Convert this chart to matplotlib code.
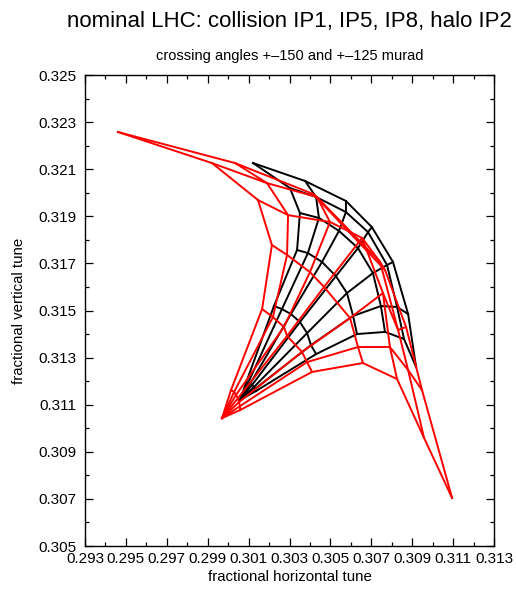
import matplotlib
matplotlib.use("Agg")
import matplotlib.pyplot as plt
import numpy as np
from matplotlib.ticker import MultipleLocator, FormatStrFormatter

plt.rcParams['font.family'] = ['Liberation Sans', 'DejaVu Sans']

# tune footprint grids: one row per amplitude (0 = origin), one column per angle
# columns run from the horizontal-only ray (j0) to the vertical-only ray (j6)
black_qx = [
    [0.30058] * 7,
    [0.30136, 0.30131, 0.30126, 0.30117, 0.30107, 0.30097, 0.30087],
    [0.30430, 0.30405, 0.30386, 0.30351, 0.30307, 0.30263, 0.30224],
    [0.30630, 0.30611, 0.30581, 0.30527, 0.30459, 0.30390, 0.30337],
    [0.30767, 0.30747, 0.30708, 0.30635, 0.30542, 0.30444, 0.30351],
    [0.30860, 0.30826, 0.30777, 0.30684, 0.30576, 0.30430, 0.30302],
    [0.30919, 0.30880, 0.30806, 0.30703, 0.30576, 0.30376, 0.30122],
]
black_qy = [
    [0.31120] * 7,
    [0.31158, 0.31167, 0.31175, 0.31184, 0.31188, 0.31192, 0.31192],
    [0.31315, 0.31353, 0.31404, 0.31451, 0.31485, 0.31506, 0.31519],
    [0.31400, 0.31477, 0.31574, 0.31646, 0.31706, 0.31744, 0.31757],
    [0.31409, 0.31519, 0.31659, 0.31765, 0.31838, 0.31893, 0.31914],
    [0.31379, 0.31515, 0.31693, 0.31833, 0.31918, 0.31982, 0.32020],
    [0.31260, 0.31485, 0.31706, 0.31854, 0.31965, 0.32050, 0.32126],
]

red_qx = [
    [0.29970] * 7,
    [0.30058, 0.30058, 0.30053, 0.30048, 0.30038, 0.30029, 0.30014],
    [0.30410, 0.30386, 0.30361, 0.30288, 0.30273, 0.30219, 0.30166],
    [0.30659, 0.30635, 0.30596, 0.30469, 0.30400, 0.30288, 0.30214],
    [0.30826, 0.30791, 0.30757, 0.30655, 0.30498, 0.30293, 0.30146],
    [0.30958, 0.30880, 0.30831, 0.30743, 0.30434, 0.30190, 0.29921],
    [0.31095, 0.30948, 0.30870, 0.30767, 0.30415, 0.30034, 0.29461],
]
red_qy = [
    [0.31043] * 7,
    [0.31077, 0.31094, 0.31111, 0.31128, 0.31141, 0.31154, 0.31162],
    [0.31239, 0.31281, 0.31324, 0.31392, 0.31430, 0.31472, 0.31506],
    [0.31277, 0.31345, 0.31468, 0.31600, 0.31663, 0.31736, 0.31778],
    [0.31209, 0.31345, 0.31574, 0.31808, 0.31876, 0.31905, 0.31969],
    [0.30959, 0.31247, 0.31417, 0.31706, 0.31982, 0.32041, 0.32126],
    [0.30704, 0.31162, 0.31430, 0.31672, 0.31995, 0.32126, 0.32258],
]

x_ticks = [0.293, 0.295, 0.297, 0.299, 0.301, 0.303, 0.305, 0.307, 0.309, 0.311, 0.313]
y_ticks = [0.305, 0.307, 0.309, 0.311, 0.313, 0.315, 0.317, 0.319, 0.321, 0.323, 0.325]


def draw_footprint(ax, qx, qy, color):
    qx = np.array(qx)
    qy = np.array(qy)
    # lines of constant amplitude
    for i in range(1, qx.shape[0]):
        ax.plot(qx[i], qy[i], color=color, lw=1.4)
    # lines of constant angle
    for j in range(qx.shape[1]):
        ax.plot(qx[:, j], qy[:, j], color=color, lw=1.4)


fig = plt.figure(figsize=(5.16, 5.94), dpi=100)
ax = fig.add_axes([85 / 516, 48 / 594, 409 / 516, 471 / 594])

draw_footprint(ax, black_qx, black_qy, 'black')
draw_footprint(ax, red_qx, red_qy, '#ff0000')

ax.set_xlim(0.293, 0.313)
ax.set_ylim(0.305, 0.325)
ax.set_xticks(x_ticks)
ax.set_yticks(y_ticks)
ax.xaxis.set_minor_locator(MultipleLocator(0.001))
ax.yaxis.set_minor_locator(MultipleLocator(0.001))
ax.xaxis.set_major_formatter(FormatStrFormatter('%.3f'))
ax.yaxis.set_major_formatter(FormatStrFormatter('%.3f'))
ax.tick_params(which='both', direction='in', top=True, right=True,
               labelsize=11, width=0.9)
ax.tick_params(which='major', length=6)
ax.tick_params(which='minor', length=3)
ax.tick_params(axis='x', which='major', pad=4)
ax.tick_params(axis='y', which='major', pad=6)
for s in ax.spines.values():
    s.set_linewidth(1.0)

ax.set_xlabel('fractional horizontal tune', fontsize=10.8, labelpad=3)
ax.set_ylabel('fractional vertical tune', fontsize=10.8, labelpad=9)

fig.text(0.561, 1 - 22 / 594, 'nominal LHC: collision IP1, IP5, IP8, halo IP2',
         ha='center', va='center', fontsize=16)
ax.set_title('crossing angles +\u2013150 and +\u2013125 murad', fontsize=10.5, pad=11)

fig.savefig('out.png', dpi=100)
